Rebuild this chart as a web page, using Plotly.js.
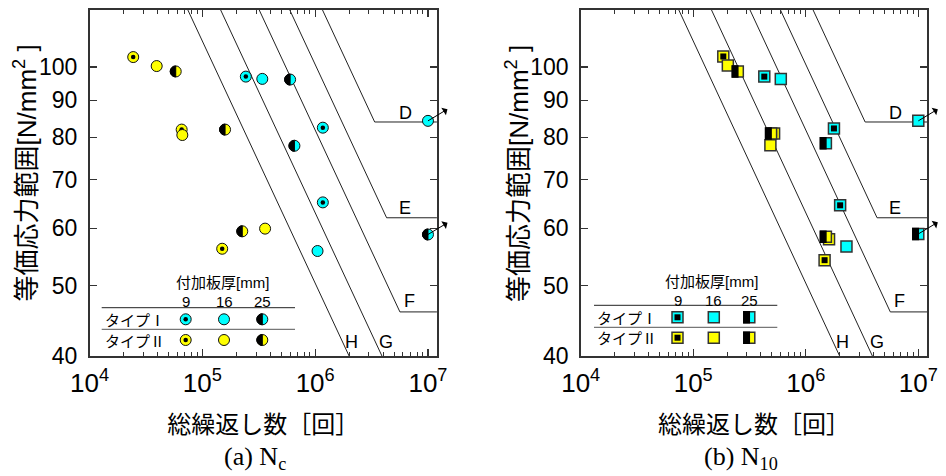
<!DOCTYPE html>
<html><head><meta charset="utf-8">
<script src="https://cdn.plot.ly/plotly-3.0.1.min.js"></script>
<style>html,body{margin:0;padding:0;background:#fff}#chart{width:946px;height:476px}</style>
</head><body><div id="chart"></div>
<script>
// ---------- JSSC fatigue design curves (vertices) ----------
const curveNames = ['D', 'E', 'F', 'G', 'H'];
const curveD_N = [1.157e6, 3.37e6, 1.2e7]; const curveD_S = [120, 84, 84];
const curveE_N = [5.93e5, 4.30e6, 1.2e7];  const curveE_S = [120, 62, 62];
const curveF_N = [3.18e5, 5.64e6, 1.2e7];  const curveF_S = [120, 46, 46];
const curveG_N = [1.447e5, 3.91e6];        const curveG_S = [120, 40];
const curveH_N = [7.41e4, 2.0e6];          const curveH_S = [120, 40];

// ---------- tick labels ----------
const xTickVals = [1e4, 1e5, 1e6, 1e7];
const xTickText = ['10<sup>4</sup>', '10<sup>5</sup>', '10<sup>6</sup>', '10<sup>7</sup>'];
const yTickVals = [40, 50, 60, 70, 80, 90, 100];
const yTickText = ['40', '50', '60', '70', '80', '90', '100'];

// ---------- legend ----------
const thicknessLabels = ['9', '16', '25'];
const typeLabels = ['タイプⅠ', 'タイプⅡ'];

// ---------- (a) Nc : total cycles N, equivalent stress range S [N/mm2] ----------
const a_typeI_9_N   = [2.43e5, 1.17e6, 1.17e6];  const a_typeI_9_S   = [97.0, 82.5, 65.1];
const a_typeI_16_N  = [3.40e5, 1.05e6, 1.0e7];   const a_typeI_16_S  = [96.3, 55.8, 84.3];
const a_typeI_25_N  = [6.0e5, 6.55e5, 1.0e7];    const a_typeI_25_S  = [96.1, 77.9, 58.8];
const a_typeII_9_N  = [2.44e4, 6.56e4, 1.50e5];  const a_typeII_9_S  = [103.2, 82.0, 56.2];
const a_typeII_16_N = [3.94e4, 6.65e4, 3.60e5];  const a_typeII_16_S = [100.3, 80.6, 59.9];
const a_typeII_25_N = [5.81e4, 1.59e5, 2.26e5];  const a_typeII_25_S = [98.6, 82.0, 59.4];

// ---------- (b) N10 ----------
const b_typeI_9_N   = [4.28e5, 1.78e6, 2.02e6];  const b_typeI_9_S   = [97.0, 82.3, 64.5];
const b_typeI_16_N  = [6.0e5, 2.30e6, 1.0e7];    const b_typeI_16_S  = [96.3, 56.6, 84.3];
const b_typeI_25_N  = [1.51e6, 1.0e7];           const b_typeI_25_S  = [78.5, 58.9];
const b_typeII_9_N  = [1.85e5, 5.23e5, 1.47e6];  const b_typeII_9_S  = [103.4, 81.0, 54.2];
const b_typeII_16_N = [2.03e5, 4.85e5, 1.61e6];  const b_typeII_16_S = [100.5, 78.0, 57.9];
const b_typeII_25_N = [2.49e5, 4.92e5, 1.51e6];  const b_typeII_25_S = [98.6, 81.0, 58.4];

const RUNOUT_N = 1.0e7; // specimens that did not fail (arrows)

// ---------- styling ----------
const W = 946, H = 476;
const CYAN = '#00FFFF', YELLOW = '#FFFF00';
const JP = 'Noto Sans CJK JP';
const SANS = 'Liberation Sans, Arial, Noto Sans CJK JP';
const px = x => x / W, py = y => 1 - y / H;

const traces = [];
const annotations = [];
const shapes = [];

function curve(xa, ya, N, S) {
  traces.push({type: 'scatter', mode: 'lines', x: N, y: S, xaxis: xa, yaxis: ya,
    line: {color: '#222', width: 1}, hoverinfo: 'skip', showlegend: false});
}
function series(xa, ya, N, S, color, sym, kind) {
  const isSq = sym === 'square';
  const size = 11, lw = isSq ? 1.5 : 1, lc = isSq ? '#333' : '#111';
  traces.push({type: 'scatter', mode: 'markers', x: N, y: S, xaxis: xa, yaxis: ya, showlegend: false,
    cliponaxis: false, marker: {symbol: sym, size: size, color: color, line: {color: lc, width: lw}}});
  if (kind === 'dot') {
    traces.push({type: 'scatter', mode: 'markers', x: N, y: S, xaxis: xa, yaxis: ya, showlegend: false,
      cliponaxis: false, marker: {symbol: sym, size: isSq ? 6 : 4.5, color: '#000', line: {width: 0}}});
  } else if (kind === 'half') {
    traces.push({type: 'scatter', mode: 'markers', x: N, y: S, xaxis: xa, yaxis: ya, showlegend: false,
      cliponaxis: false, meta: isSq ? 'halfsquare' : 'halfcircle',
      marker: {symbol: sym, size: size, color: '#000', line: {color: '#000', width: lw}}});
  }
  N.forEach((n, i) => {
    if (n >= RUNOUT_N) {
      annotations.push({xref: xa, yref: ya, x: Math.log10(n), y: Math.log10(S[i]), text: '',
        showarrow: true, arrowside: 'start', arrowhead: 1, startarrowhead: 1, arrowsize: 1.5,
        startarrowsize: 1.5, arrowwidth: 1, arrowcolor: '#000', ax: 20, ay: -12, borderpad: 0});
    }
  });
}

function panel(xa, ya, p) {
  curve(xa, ya, curveD_N, curveD_S);
  curve(xa, ya, curveE_N, curveE_S);
  curve(xa, ya, curveF_N, curveF_S);
  curve(xa, ya, curveG_N, curveG_S);
  curve(xa, ya, curveH_N, curveH_S);
  const sym = p.sym;
  series(xa, ya, p.II9N, p.II9S, YELLOW, sym, 'dot');
  series(xa, ya, p.II16N, p.II16S, YELLOW, sym, 'plain');
  series(xa, ya, p.II25N, p.II25S, YELLOW, sym, 'half');
  series(xa, ya, p.I9N, p.I9S, CYAN, sym, 'dot');
  series(xa, ya, p.I16N, p.I16S, CYAN, sym, 'plain');
  series(xa, ya, p.I25N, p.I25S, CYAN, sym, 'half');
  // curve labels
  const lab = [[6.27e6, 86.4], [6.27e6, 64.0], [6.79e6, 47.6], [4.26e6, 41.8], [2.1e6, 41.8]];
  curveNames.forEach((t, i) => annotations.push({xref: xa, yref: ya, x: Math.log10(lab[i][0]),
    y: Math.log10(lab[i][1]), text: t, showarrow: false, xanchor: 'center', yanchor: 'middle',
    font: {family: SANS, size: 18, color: '#000'}}));
}

panel('x', 'y', {sym: 'circle',
  I9N: a_typeI_9_N, I9S: a_typeI_9_S, I16N: a_typeI_16_N, I16S: a_typeI_16_S, I25N: a_typeI_25_N, I25S: a_typeI_25_S,
  II9N: a_typeII_9_N, II9S: a_typeII_9_S, II16N: a_typeII_16_N, II16S: a_typeII_16_S, II25N: a_typeII_25_N, II25S: a_typeII_25_S});
panel('x2', 'y2', {sym: 'square',
  I9N: b_typeI_9_N, I9S: b_typeI_9_S, I16N: b_typeI_16_N, I16S: b_typeI_16_S, I25N: b_typeI_25_N, I25S: b_typeI_25_S,
  II9N: b_typeII_9_N, II9S: b_typeII_9_S, II16N: b_typeII_16_N, II16S: b_typeII_16_S, II25N: b_typeII_25_N, II25S: b_typeII_25_S});

// ---------- custom legend (layout shapes + text) ----------
const K = 0.5523;
function pxShape(cx, cy, extra) {
  return Object.assign({xref: 'paper', yref: 'paper', xsizemode: 'pixel', ysizemode: 'pixel',
    xanchor: px(cx), yanchor: py(cy), layer: 'above'}, extra);
}
function legendSymbol(cx, cy, color, sym, kind) {
  const r = 5.5;
  if (sym === 'circle') {
    shapes.push(pxShape(cx, cy, {type: 'circle', x0: -r, x1: r, y0: -r, y1: r, fillcolor: color, line: {color: '#111', width: 1}}));
    if (kind === 'dot') shapes.push(pxShape(cx, cy, {type: 'circle', x0: -2.25, x1: 2.25, y0: -2.25, y1: 2.25, fillcolor: '#000', line: {width: 0}}));
    if (kind === 'half') shapes.push(pxShape(cx, cy, {type: 'path',
      path: `M0,${-r} C${-K * r},${-r} ${-r},${-K * r} ${-r},0 C${-r},${K * r} ${-K * r},${r} 0,${r} Z`,
      fillcolor: '#000', line: {color: '#000', width: 1}}));
  } else {
    shapes.push(pxShape(cx, cy, {type: 'rect', x0: -r, x1: r, y0: -r, y1: r, fillcolor: color, line: {color: '#333', width: 1.5}}));
    if (kind === 'dot') shapes.push(pxShape(cx, cy, {type: 'rect', x0: -3, x1: 3, y0: -3, y1: 3, fillcolor: '#000', line: {width: 0}}));
    if (kind === 'half') shapes.push(pxShape(cx, cy, {type: 'rect', x0: -r, x1: 0, y0: -r, y1: r, fillcolor: '#000', line: {color: '#000', width: 1.5}}));
  }
}
function legend(L) {
  annotations.push({xref: 'paper', yref: 'paper', x: px(L.hx), y: py(L.hy), text: '付加板厚[mm]', showarrow: false,
    xanchor: 'center', yanchor: 'middle', font: {family: SANS, size: 15, color: '#000'}});
  thicknessLabels.forEach((t, i) => annotations.push({xref: 'paper', yref: 'paper', x: px(L.cols[i]), y: py(L.ny),
    text: t, showarrow: false, xanchor: 'center', yanchor: 'middle', font: {family: SANS, size: 15, color: '#000'}}));
  shapes.push({type: 'line', xref: 'paper', yref: 'paper', x0: px(L.x0), x1: px(L.x1), y0: py(L.l1), y1: py(L.l1), line: {color: '#222', width: 1}});
  shapes.push({type: 'line', xref: 'paper', yref: 'paper', x0: px(L.x0), x1: px(L.x1), y0: py(L.l2), y1: py(L.l2), line: {color: '#555', width: 1}});
  typeLabels.forEach((t, i) => annotations.push({xref: 'paper', yref: 'paper', x: px(L.x0 + 1), y: py(L.rows[i]),
    text: t, showarrow: false, xanchor: 'left', yanchor: 'middle', font: {family: JP, size: 15, color: '#000'}}));
  const kinds = ['dot', 'plain', 'half'];
  [CYAN, YELLOW].forEach((c, r) => kinds.forEach((k, i) => legendSymbol(L.cols[i], L.rows[r], c, L.sym, k)));
}
legend({sym: 'circle', hx: 222.7, hy: 282.3, ny: 301, cols: [185.7, 224, 262.3], x0: 101.7, x1: 295, l1: 307.7, l2: 329.3, rows: [319.3, 340]});
legend({sym: 'square', hx: 711.7, hy: 281.7, ny: 300, cols: [677.5, 713.8, 749.3], x0: 594, x1: 777.3, l1: 305.3, l2: 327.3, rows: [317.3, 337.7]});

// ---------- y-axis titles and sub-captions ----------
const yTitle = '等価応力範囲[N/mm<sup>2</sup> ]';
[[26, 173.5], [517.5, 173.5]].forEach(([x, y]) => annotations.push({xref: 'paper', yref: 'paper',
  x: px(x), y: py(y), text: yTitle, textangle: -90, showarrow: false, xanchor: 'center', yanchor: 'middle',
  font: {family: SANS, size: 26, color: '#000'}}));
annotations.push({xref: 'paper', yref: 'paper', x: px(255), y: py(458), text: '(a) N<sub>c</sub>', showarrow: false,
  xanchor: 'center', yanchor: 'middle', font: {family: 'Liberation Serif, Times New Roman', size: 26, color: '#000'}});
annotations.push({xref: 'paper', yref: 'paper', x: px(741), y: py(458), text: '(b) N<sub>10</sub>', showarrow: false,
  xanchor: 'center', yanchor: 'middle', font: {family: 'Liberation Serif, Times New Roman', size: 26, color: '#000'}});

// ---------- axes ----------
const yDom = [1 - 356 / H, 1 - 9.5 / H];
const xCommon = {type: 'log', range: [4, 7.08], tickmode: 'array', tickvals: xTickVals, ticktext: xTickText,
  showgrid: false, zeroline: false, showline: true, linecolor: '#333', linewidth: 1.5, mirror: 'ticks',
  ticks: 'inside', ticklen: 7, tickwidth: 1.2, tickcolor: '#333', ticklabelstandoff: 3,
  tickfont: {family: SANS, size: 26, color: '#000'}, automargin: false, fixedrange: true,
  minor: {ticks: 'inside', ticklen: 4, dtick: 'D1', tickwidth: 1, tickcolor: '#333', showgrid: false},
  title: {text: '総繰返し数［回］', font: {family: JP, size: 24, color: '#000'}, standoff: 19}};
const yCommon = {type: 'log', range: [Math.log10(40), Math.log10(120)], tickmode: 'array', tickvals: yTickVals, ticktext: yTickText,
  domain: yDom, showgrid: false, zeroline: false, showline: true, linecolor: '#333', linewidth: 1.5, mirror: 'ticks',
  ticks: 'inside', ticklen: 7, tickwidth: 1.2, tickcolor: '#333', ticklabelstandoff: 6,
  tickfont: {family: SANS, size: 23, color: '#000'}, automargin: false, fixedrange: true};

const layout = {
  width: W, height: H, margin: {l: 0, r: 0, t: 0, b: 0},
  paper_bgcolor: '#fff', plot_bgcolor: 'rgba(0,0,0,0)', showlegend: false,
  xaxis: Object.assign({}, xCommon, {domain: [89.5 / W, 437 / W], anchor: 'y'}),
  yaxis: Object.assign({}, yCommon, {anchor: 'x'}),
  xaxis2: Object.assign({}, xCommon, {domain: [580.7 / W, 927.3 / W], anchor: 'y2'}),
  yaxis2: Object.assign({}, yCommon, {anchor: 'x2'}),
  annotations: annotations, shapes: shapes
};

// turn the overlay markers of 25 mm specimens into left-half (black) symbols
function makeHalves() {
  document.querySelectorAll('#chart .scatterlayer .trace').forEach(g => {
    const d = g.__data__;
    const tr = d && d[0] && d[0].trace;
    if (!tr) return;
    const meta = tr.meta || (tr._input && tr._input.meta);
    if (meta !== 'halfcircle' && meta !== 'halfsquare') return;
    const r = tr.marker.size / 2;
    const path = meta === 'halfcircle'
      ? `M0,${-r}A${r},${r} 0 0,0 0,${r}Z`
      : `M${-r},${-r}H0V${r}H${-r}Z`;
    g.querySelectorAll('path.point').forEach(p => p.setAttribute('d', path));
  });
}

const gd = document.getElementById('chart');
Plotly.newPlot(gd, traces, layout, {staticPlot: true, displayModeBar: false}).then(() => {
  makeHalves();
  gd.on && gd.on('plotly_afterplot', makeHalves);
});
</script>
</body></html>
